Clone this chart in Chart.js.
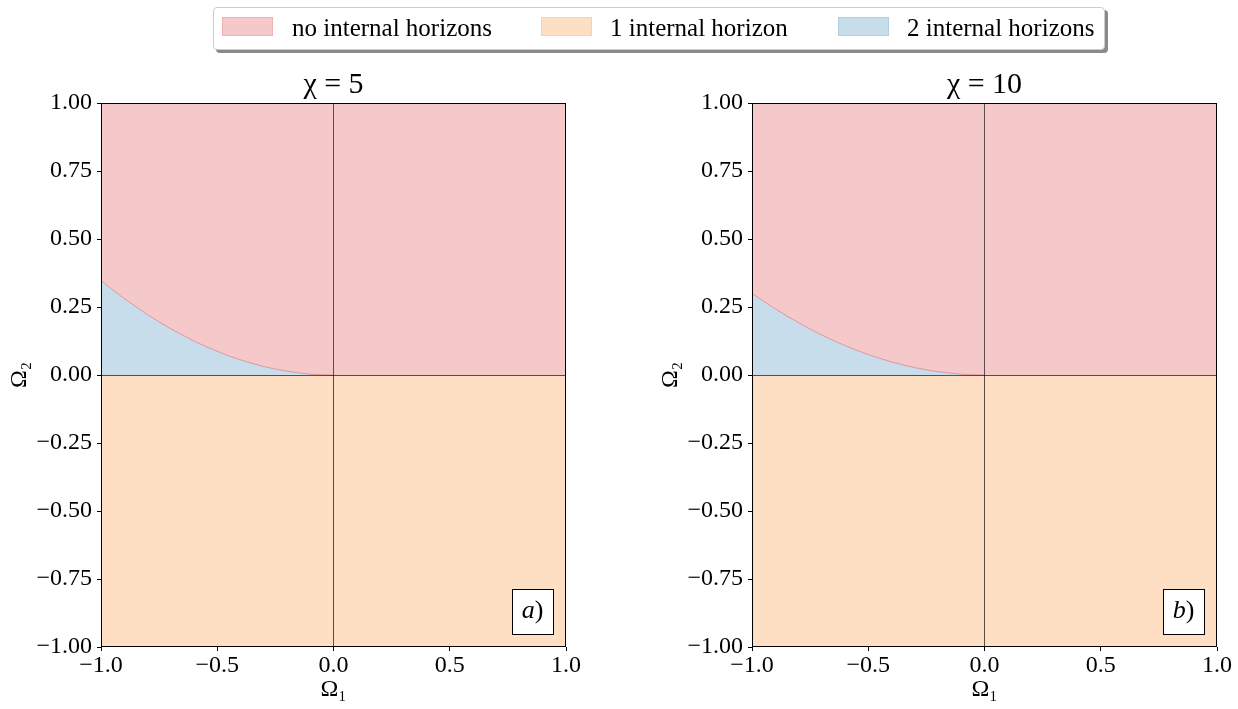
<!DOCTYPE html>
<html>
<head>
<meta charset="utf-8">
<script src="https://cdn.jsdelivr.net/npm/chart.js@4.4.0/dist/chart.umd.min.js"></script>
<style>
body{margin:0;background:#fff;width:1238px;height:709px;position:relative;overflow:hidden;font-family:'Liberation Serif','DejaVu Serif',serif}
canvas{position:absolute;top:0}
#legend{position:absolute;left:213px;top:7px;width:890px;height:41px;border:1px solid #cccccc;border-radius:4px;background:#fff;box-shadow:3px 3px 0 #8a8a8a;z-index:2}
#legend .patch{position:absolute;top:9px;width:49px;height:17px}
#legend .txt{position:absolute;top:0;line-height:40px;font-size:25px;color:#000;white-space:nowrap}
</style>
</head>
<body>
<div id="legend">
  <div class="patch" style="left:8px;background:rgba(214,39,40,0.25);border:1px solid rgba(214,39,40,0.15)"></div>
  <div class="txt" style="left:78px">no internal horizons</div>
  <div class="patch" style="left:327px;background:rgba(255,127,14,0.25);border:1px solid rgba(255,127,14,0.15)"></div>
  <div class="txt" style="left:396px">1 internal horizon</div>
  <div class="patch" style="left:624px;background:rgba(31,119,180,0.25);border:1px solid rgba(31,119,180,0.15)"></div>
  <div class="txt" style="left:693px">2 internal horizons</div>
</div>
<canvas id="left" width="620" height="709" style="left:0"></canvas>
<canvas id="right" width="587" height="709" style="left:651px"></canvas>
<script>
// boundary between "no" and "2 internal horizons"
const omegaCurve = [-1, -0.95, -0.9, -0.85, -0.8, -0.75, -0.7, -0.65, -0.6, -0.55, -0.5,
                    -0.45, -0.4, -0.35, -0.3, -0.25, -0.2, -0.15, -0.1, -0.05, 0];
const omegaRight = [0.5, 1];
const chi5Curve = [0.347, 0.313, 0.281, 0.251, 0.222, 0.195, 0.170, 0.147, 0.125, 0.105, 0.087,
                   0.070, 0.056, 0.043, 0.031, 0.022, 0.014, 0.008, 0.003, 0.001, 0];
const chi10Curve = [0.300, 0.271, 0.243, 0.217, 0.192, 0.169, 0.147, 0.127, 0.108, 0.091, 0.075,
                    0.061, 0.048, 0.037, 0.027, 0.019, 0.012, 0.007, 0.003, 0.001, 0];
const xTicks = [-1, -0.5, 0, 0.5, 1];
const yTicks = [-1, -0.75, -0.5, -0.25, 0, 0.25, 0.5, 0.75, 1];

const PINK = 'rgba(214,39,40,0.25)';
const ORANGE = 'rgba(255,127,14,0.25)';
const BLUE = 'rgba(31,119,180,0.25)';
const SERIF = "'Liberation Serif','DejaVu Serif',serif";

function fmt(v, d){ return (v < 0 ? '\u2212' : '') + Math.abs(v).toFixed(d); }

const framePlugin = {
  id: 'frame',
  afterDraw(chart){
    const {ctx, chartArea: a} = chart;
    ctx.save();
    ctx.strokeStyle = '#000';
    ctx.lineWidth = 1;
    ctx.strokeRect(Math.round(a.left) + 0.5, Math.round(a.top) + 0.5,
                   Math.round(a.right - a.left) - 1, Math.round(a.bottom - a.top) - 1);
    // panel tag
    const tag = chart.options.plugins.frame.tag;
    const w = 41, h = 45;
    const bx = a.right - 13 - w, by = a.bottom - 13 - h;
    ctx.fillStyle = '#fff';
    ctx.fillRect(bx, by, w, h);
    ctx.strokeRect(Math.round(bx) + 0.5, Math.round(by) + 0.5, w, h);
    ctx.fillStyle = '#000';
    ctx.textBaseline = 'middle';
    ctx.font = 'italic 26px ' + SERIF;
    const w1 = ctx.measureText(tag).width;
    ctx.font = '26px ' + SERIF;
    const w2 = ctx.measureText(')').width;
    let tx = bx + w / 2 - (w1 + w2) / 2;
    ctx.font = 'italic 26px ' + SERIF;
    ctx.textAlign = 'left';
    ctx.fillText(tag, tx, by + h / 2);
    ctx.font = '26px ' + SERIF;
    ctx.fillText(')', tx + w1, by + h / 2);
    ctx.restore();
  }
};

function makeChart(id, curve, title, tag, padRight){
  const xs = omegaCurve.concat(omegaRight);
  const boundary = curve.concat(omegaRight.map(() => 0));
  const pts = vals => xs.map((x, i) => ({x: x, y: vals[i]}));
  const zeroLine = ctx => ctx.tick && ctx.tick.value === 0 ? 'rgba(0,0,0,0.65)' : 'rgba(0,0,0,0)';

  return new Chart(document.getElementById(id), {
    type: 'line',
    data: {
      datasets: [
        { label: 'no internal horizons', data: pts(xs.map(() => 1)), fill: 1,
          backgroundColor: PINK, borderWidth: 0, pointRadius: 0 },
        { label: 'boundary', data: pts(boundary), fill: false, borderWidth: 1, pointRadius: 0,
          borderColor: 'rgba(214,39,40,0.35)',
          segment: { borderColor: c => c.p0.parsed.x >= 0 ? 'rgba(0,0,0,0)' : 'rgba(214,39,40,0.35)' } },
        { label: '2 internal horizons', data: pts(boundary), fill: 'origin',
          backgroundColor: BLUE, borderWidth: 0, pointRadius: 0 },
        { label: '1 internal horizon', data: pts(xs.map(() => 0)), fill: 'start',
          backgroundColor: ORANGE, borderWidth: 0, pointRadius: 0 }
      ]
    },
    options: {
      responsive: false,
      animation: false,
      devicePixelRatio: 1,
      layout: { padding: { left: 0, right: padRight, top: 0, bottom: 0 } },
      plugins: {
        legend: { display: false },
        tooltip: { enabled: false },
        title: { display: true, text: title, fullSize: false, color: '#000',
                 font: { family: SERIF, size: 30, weight: 'normal' },
                 padding: { top: 67, bottom: 0 } },
        frame: { tag: tag }
      },
      scales: {
        x: {
          type: 'linear', min: -1, max: 1,
          afterBuildTicks: s => { s.ticks = xTicks.map(v => ({value: v})); },
          afterFit: s => { s.height = 62; },
          border: { display: false },
          grid: { z: 1, color: zeroLine, tickColor: '#000', tickLength: 4, lineWidth: 1 },
          ticks: { color: '#000', padding: 0, maxRotation: 0,
                   font: { family: SERIF, size: 24 }, callback: v => fmt(v, 1) },
          title: { display: true, text: 'Ω₁', color: '#000',
                   font: { family: SERIF, size: 24 }, padding: { top: 0, bottom: 5 } }
        },
        y: {
          type: 'linear', min: -1, max: 1,
          afterBuildTicks: s => { s.ticks = yTicks.map(v => ({value: v})); },
          afterFit: s => { s.width = 101; },
          border: { display: false },
          grid: { z: 1, color: zeroLine, tickColor: '#000', tickLength: 4, lineWidth: 1 },
          ticks: { color: '#000', padding: 5,
                   font: { family: SERIF, size: 24 }, callback: v => fmt(v, 2) },
          title: { display: true, text: 'Ω₂', color: '#000',
                   font: { family: SERIF, size: 24 }, padding: { top: 5, bottom: 0 } }
        }
      }
    },
    plugins: [framePlugin]
  });
}

makeChart('left', chi5Curve, 'χ = 5', 'a', 54);
makeChart('right', chi10Curve, 'χ = 10', 'b', 21);
</script>
</body>
</html>
